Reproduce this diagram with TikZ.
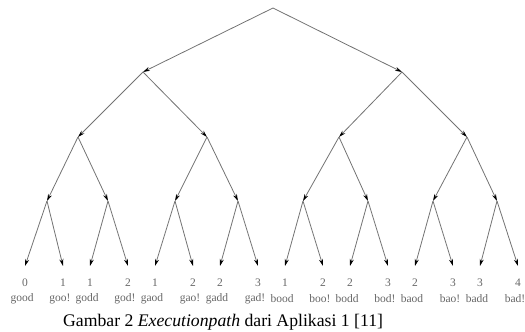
\documentclass[tikz,border=0pt]{standalone}
\usepackage{fontspec}
\setmainfont{Liberation Serif}
\usetikzlibrary{arrows.meta}
\tikzset{
  edge/.style={draw=black!55, line width=0.8pt, -{Stealth[length=7pt,width=4pt,black]}},
  num/.style={font=\fontsize{11.5}{11.5}\selectfont, text=black!60, inner sep=0pt},
  word/.style={font=\fontsize{11.5}{11.5}\selectfont, text=black!60, inner sep=0pt},
  captext/.style={font=\fontsize{17.7}{17.7}\selectfont, inner sep=0pt, anchor=base west}
}
\begin{document}
\begin{tikzpicture}[x=1pt,y=-1pt]
\useasboundingbox (0,0) rectangle (525,332);
% vertices
\coordinate (r) at (273,8);
\coordinate (a) at (143,72);
\coordinate (b) at (402,72);
\coordinate (aa) at (78,137);
\coordinate (ab) at (207,137);
\coordinate (ba) at (339,137);
\coordinate (bb) at (467,137);
\coordinate (aaa) at (47,201);
\coordinate (aab) at (108,201);
\coordinate (aba) at (175,201);
\coordinate (abb) at (238,201);
\coordinate (baa) at (303,201);
\coordinate (bab) at (368,201);
\coordinate (bba) at (433,201);
\coordinate (bbb) at (497,201);
\foreach \n/\x in {1/25,2/63,3/90,4/128,5/155,6/193,7/220,8/258,9/285,10/323,11/350,12/388,13/415,14/453,15/480,16/518}
  \coordinate (l\n) at (\x,266);
% edges
\foreach \p/\c in {r/a,r/b,a/aa,a/ab,b/ba,b/bb,aa/aaa,aa/aab,ab/aba,ab/abb,ba/baa,ba/bab,bb/bba,bb/bbb,
  aaa/l1,aaa/l2,aab/l3,aab/l4,aba/l5,aba/l6,abb/l7,abb/l8,baa/l9,baa/l10,bab/l11,bab/l12,bba/l13,bba/l14,bbb/l15,bbb/l16}
  \draw[edge] (\p) -- (\c);
% leaf labels
\foreach \n/\v/\w in {1/0/good,2/1/goo!,3/1/godd,4/2/god!,5/1/gaod,6/2/gao!,7/2/gadd,8/3/gad!,9/1/bood,10/2/boo!,11/2/bodd,12/3/bod!,13/2/baod,14/3/bao!,15/3/badd,16/4/bad!}{
  \node[num] (n\n) at ([yshift=-16.5pt]l\n) {\v};
  \node[word] (w\n) at ([xshift=-3pt,yshift=-33pt]l\n) {\w};
}
\node[captext] (caption) at (63,326) {Gambar 2 \textit{Executionpath} dari Aplikasi 1 [11]};
\end{tikzpicture}
\end{document}
